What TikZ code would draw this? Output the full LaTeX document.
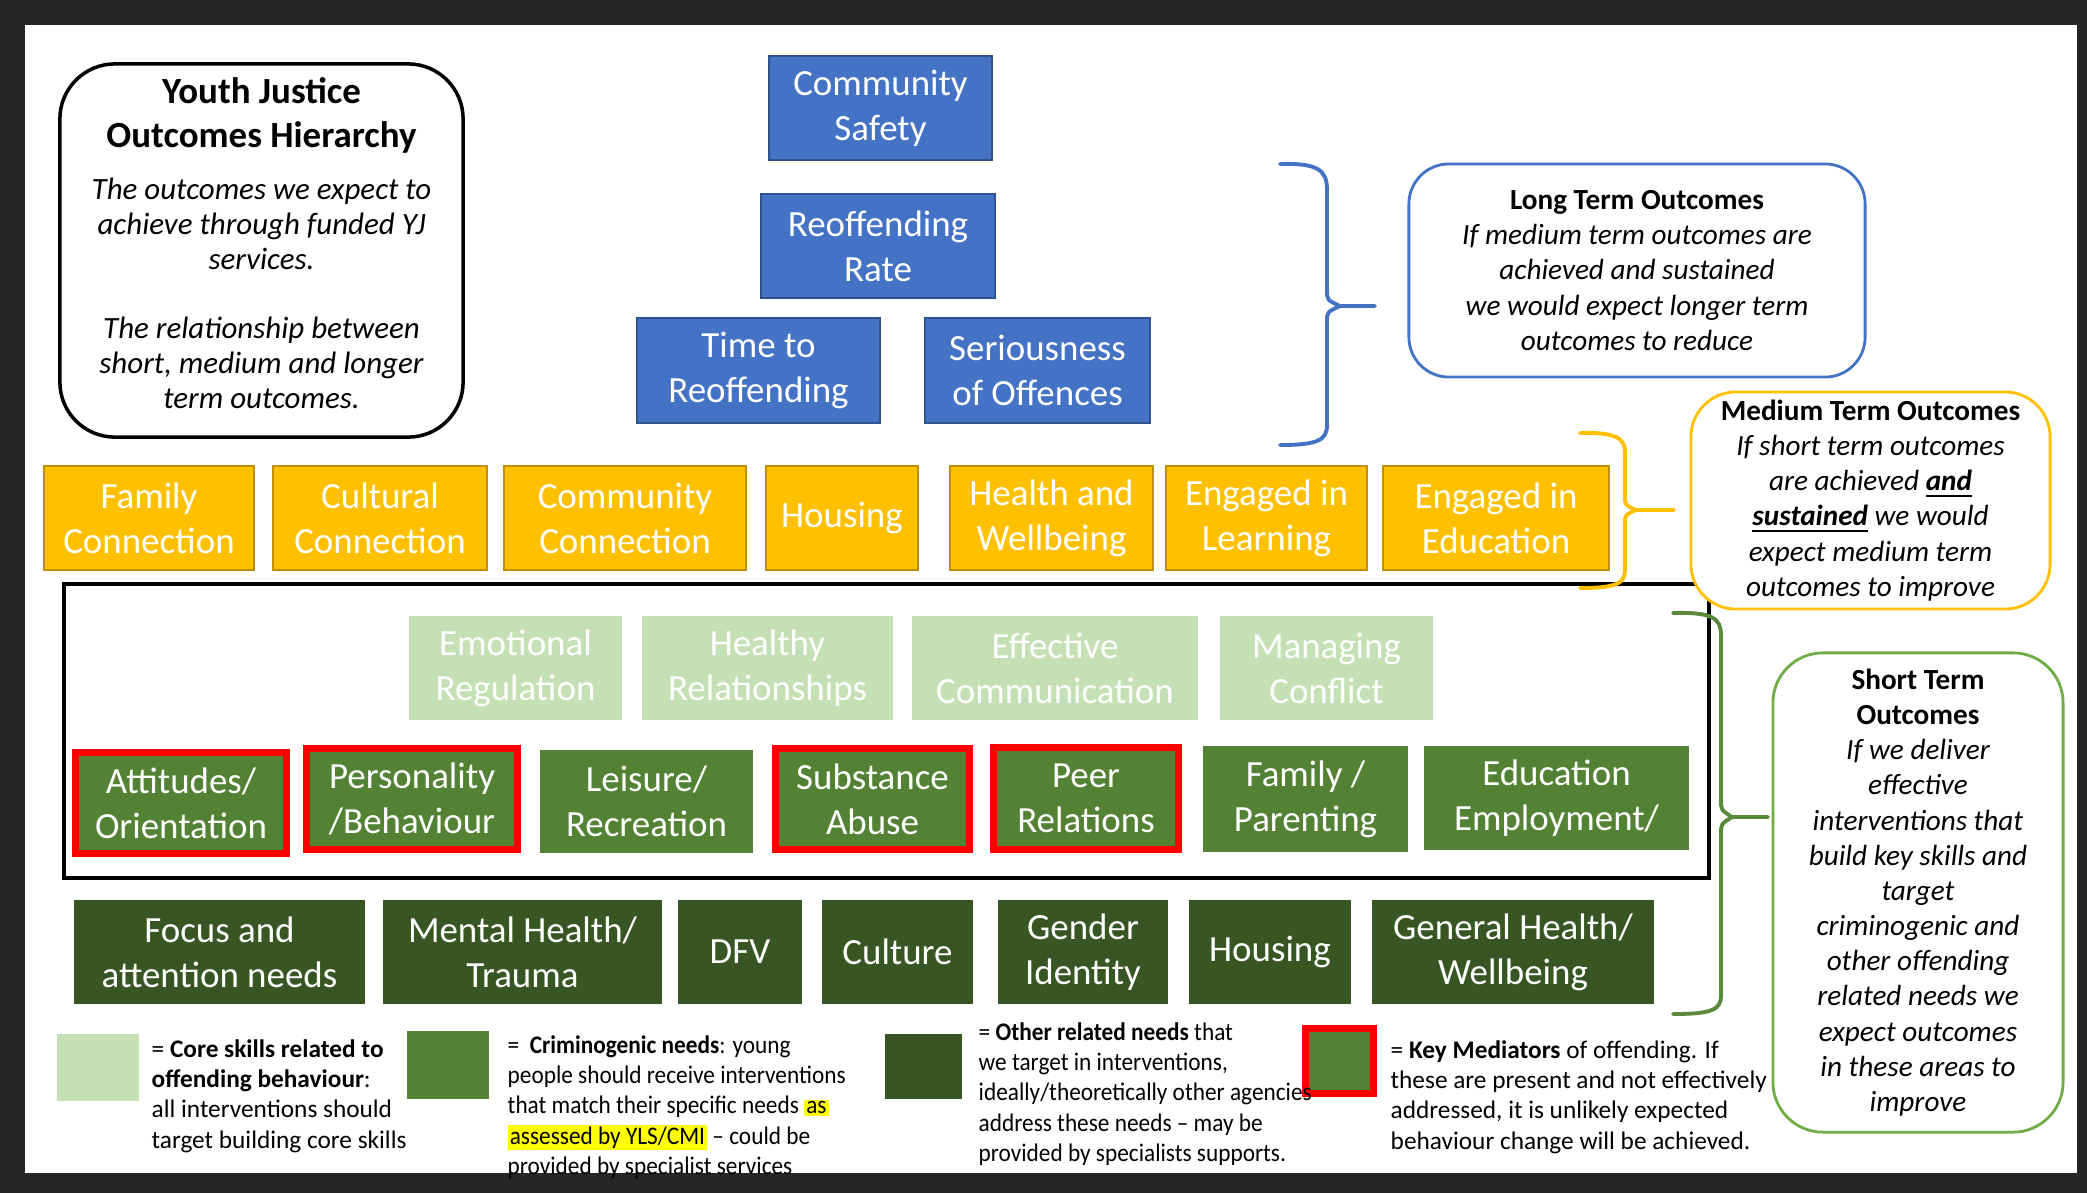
\documentclass[tikz,border=0pt]{standalone}
\usepackage{fontspec}
\setmainfont{Carlito}
\newfontfamily\legnarrow{Carlito}[FakeStretch=0.92]
\definecolor{bgdark}{HTML}{262626}
\definecolor{yjblue}{HTML}{4472C4}
\definecolor{yjblueD}{HTML}{2F528F}
\definecolor{yjyel}{HTML}{FFC000}
\definecolor{yjyelD}{HTML}{BF9000}
\definecolor{lgreen}{HTML}{C5E0B4}
\definecolor{mgreen}{HTML}{548235}
\definecolor{dgreen}{HTML}{375623}
\definecolor{sgreen}{HTML}{70AD47}
\definecolor{hlyel}{HTML}{FFFF00}
\newcommand{\hlmark}[1]{{\setlength{\fboxsep}{0.6pt}\colorbox{hlyel}{#1}}}
\begin{document}
\begin{tikzpicture}[x=0.01cm,y=-0.01cm,
  wh/.style 2 args={minimum width=#1cm,minimum height=#2cm},
  tile/.style={inner sep=0pt,align=center,text=white,font=\fontsize{10.5}{12.8}\selectfont},
  bluetile/.style={tile,fill=yjblue,draw=yjblueD,line width=0.5pt},
  yeltile/.style={tile,fill=yjyel,draw=yjyelD,line width=0.5pt},
  coretile/.style={tile,fill=lgreen},
  crimtile/.style={tile,fill=mgreen},
  keytile/.style={crimtile,draw=red,line width=2pt},
  othertile/.style={tile,fill=dgreen},
  notebox/.style={fill=white,align=center,inner sep=0pt,line width=0.8pt,font=\fontsize{8.3}{10}\selectfont\itshape},
  legtext/.style={anchor=north west,inner sep=0pt,align=left,font=\fontsize{7.2}{8.6}\selectfont},
  legnar/.style={legtext,font=\legnarrow\fontsize{7.2}{8.6}\selectfont},
  legsq/.style={inner sep=0pt},
  brace/.style={line width=1.1pt,line cap=round,line join=round}
]
\fill[bgdark] (0,0) rectangle (2087,1193);
\useasboundingbox (0,0) rectangle (2087,1193);
\fill[white] (25,25) rectangle (2077,1173);

% black frame round the short term outcomes
\draw[line width=1.4pt] (64,584) rectangle (1709,878);

% braces
\draw[brace,yjblue] (1280,164) .. controls (1318,163) and (1327,170) .. (1327,190) -- (1327,290) .. controls (1327,300) .. (1340,306) -- (1375,306);
\draw[brace,yjblue] (1340,306) .. controls (1327,312) .. (1327,322) -- (1327,425) .. controls (1327,440) and (1318,445) .. (1280,445);
\draw[brace,yjyel] (1580,433) .. controls (1615,432) and (1625,438) .. (1625,452) -- (1625,497) .. controls (1625,505) .. (1636,510) -- (1674,510);
\draw[brace,yjyel] (1636,510) .. controls (1625,515) .. (1625,523) -- (1625,570) .. controls (1625,584) and (1615,588) .. (1580,588);
\draw[brace,sgreen!80!black] (1673,613) .. controls (1712,612) and (1721,618) .. (1721,635) -- (1721,800) .. controls (1721,810) .. (1732,817) -- (1768,817);
\draw[brace,sgreen!80!black] (1732,817) .. controls (1721,824) .. (1721,834) -- (1721,995) .. controls (1721,1010) and (1712,1014) .. (1673,1014);

% title box
\node[draw,line width=1pt,rounded corners=0.55cm,wh={4.03}{3.73},inner sep=0pt] (title) at (261.5,250.5) {};
\node[align=center,inner sep=0pt,font=\fontsize{8.8}{10}\selectfont\itshape] (titletext) at (261.5,243)
 {{\fontsize{10.5}{12.5}\selectfont\upshape\bfseries Youth Justice}\\[2.5pt]
  {\fontsize{10.5}{12.5}\selectfont\upshape\bfseries Outcomes Hierarchy}\\[4.8pt]
  The outcomes we expect to\\ achieve through funded YJ\\ services.\\[9.5pt]
  The relationship between\\ short, medium and longer\\ term outcomes.};

% long term tiles
\node[bluetile,wh={2.23}{1.04}] (safety) at (880.5,108) {Community\\Safety};
\node[bluetile,wh={2.34}{1.04}] (rate) at (878,246) {Reoffending\\Rate};
\node[bluetile,wh={2.43}{1.05}] (time) at (758.5,370.5) {Time to\\Reoffending};
\node[bluetile,wh={2.25}{1.05}] (serious) at (1037.5,370.5) {Seriousness\\of Offences};

% medium term tiles
\node[yeltile,wh={2.10}{1.04}] (famconn) at (149,518) {Family\\Connection};
\node[yeltile,wh={2.14}{1.04}] (cultconn) at (380,518) {Cultural\\Connection};
\node[yeltile,wh={2.42}{1.04}] (commconn) at (625,518) {Community\\Connection};
\node[yeltile,wh={1.52}{1.04}] (housing) at (842,518) {Housing};
\node[yeltile,wh={2.03}{1.04}] (health) at (1051.5,518) {Health and\\Wellbeing};
\node[yeltile,wh={2.01}{1.04}] (learning) at (1266.5,518) {Engaged in\\Learning};
\node[yeltile,wh={2.26}{1.04}] (education) at (1496,518) {Engaged in\\Education};

% core skills
\node[coretile,wh={2.13}{1.04}] (emo) at (515.5,668) {Emotional\\Regulation};
\node[coretile,wh={2.51}{1.04}] (rel) at (767.5,668) {Healthy\\Relationships};
\node[coretile,wh={2.86}{1.04}] (comm) at (1055,668) {Effective\\Communication};
\node[coretile,wh={2.13}{1.04}] (conflict) at (1326.5,668) {Managing\\Conflict};

% criminogenic needs
\node[keytile,wh={2.11}{1.01}] (att) at (181,803) {Attitudes/\\Orientation};
\node[keytile,wh={2.11}{1.01}] (pers) at (412,799) {Personality\\/Behaviour};
\node[crimtile,wh={2.13}{1.03}] (leis) at (646.5,801.5) {Leisure/\\Recreation};
\node[keytile,wh={1.94}{1.01}] (subs) at (872.5,799) {Substance\\Abuse};
\node[keytile,wh={1.85}{1.02}] (peer) at (1086,798.5) {Peer\\Relations};
\node[crimtile,wh={2.05}{1.06}] (famp) at (1305.5,799) {Family /\\Parenting};
\node[crimtile,wh={2.65}{1.04}] (edu) at (1556.5,798) {Education\\Employment/};

% other needs
\node[othertile,wh={2.91}{1.04}] (focus) at (219.5,952) {Focus and\\attention needs};
\node[othertile,wh={2.79}{1.04}] (mental) at (522.5,952) {Mental Health/\\Trauma};
\node[othertile,wh={1.24}{1.04}] (dfv) at (740,952) {DFV};
\node[othertile,wh={1.51}{1.04}] (culture) at (897.5,952) {Culture};
\node[othertile,wh={1.70}{1.04}] (gender) at (1083,952) {Gender\\Identity};
\node[othertile,wh={1.62}{1.04}] (housing2) at (1270,952) {Housing};
\node[othertile,wh={2.82}{1.04}] (genhealth) at (1513,952) {General Health/\\Wellbeing};

% outcome notes
\node[notebox,draw=yjblue,rounded corners=0.4cm,wh={4.56}{2.13}] (longnote) at (1637,270.5)
 {\textup{\textbf{Long Term Outcomes}}\\ If medium term outcomes are\\ achieved and sustained\\ we would expect longer term\\ outcomes to reduce};
\node[notebox,draw=yjyel,rounded corners=0.45cm,wh={3.59}{2.17}] (mednote) at (1870.5,500.5)
 {\textup{\textbf{Medium Term Outcomes}}\\ If short term outcomes\\ are achieved \underline{\textbf{and}}\\ \underline{\textbf{sustained}} we would\\ expect medium term\\ outcomes to improve};
\node[notebox,draw=sgreen,rounded corners=0.5cm,wh={2.90}{4.79}] (shortnote) at (1918,892.5)
 {\textup{\textbf{Short Term}}\\ \textup{\textbf{Outcomes}}\\ If we deliver\\ effective\\ interventions that\\ build key skills and\\ target\\ criminogenic and\\ other offending\\ related needs we\\ expect outcomes\\ in these areas to\\ improve};

% legend squares
\node[legsq,fill=lgreen,wh={0.82}{0.67}] (sqcore) at (98,1067.5) {};
\node[legsq,fill=mgreen,wh={0.82}{0.68}] (sqcrim) at (448,1065) {};
\node[legsq,fill=dgreen,wh={0.77}{0.65}] (sqother) at (923.5,1066.5) {};
\node[legsq,fill=mgreen,draw=red,line width=2pt,wh={0.68}{0.65}] (sqkey) at (1339.5,1061) {};
% legend texts
\node[legtext] (txcore) at (151,1039) {= \textbf{Core skills related to}\\ \textbf{offending behaviour}:\\ all interventions should\\ target building core skills};
\node[legnar] (txcrim) at (507,1035) {=\ \ \textbf{Criminogenic needs}: young\\ people should receive interventions\\ that match their specific needs \hlmark{as}\\ \hlmark{assessed by YLS/CMI} – could be\\ provided by specialist services};
\node[legnar] (txother) at (978,1022) {= \textbf{Other related needs} that\\ we target in interventions,\\ ideally/theoretically other agencies\\ address these needs – may be\\ provided by specialists supports.};
\node[legtext] (txkey) at (1390,1040) {= \textbf{Key Mediators} of offending. If\\ these are present and not effectively\\ addressed, it is unlikely expected\\ behaviour change will be achieved.};
\end{tikzpicture}
\end{document}
